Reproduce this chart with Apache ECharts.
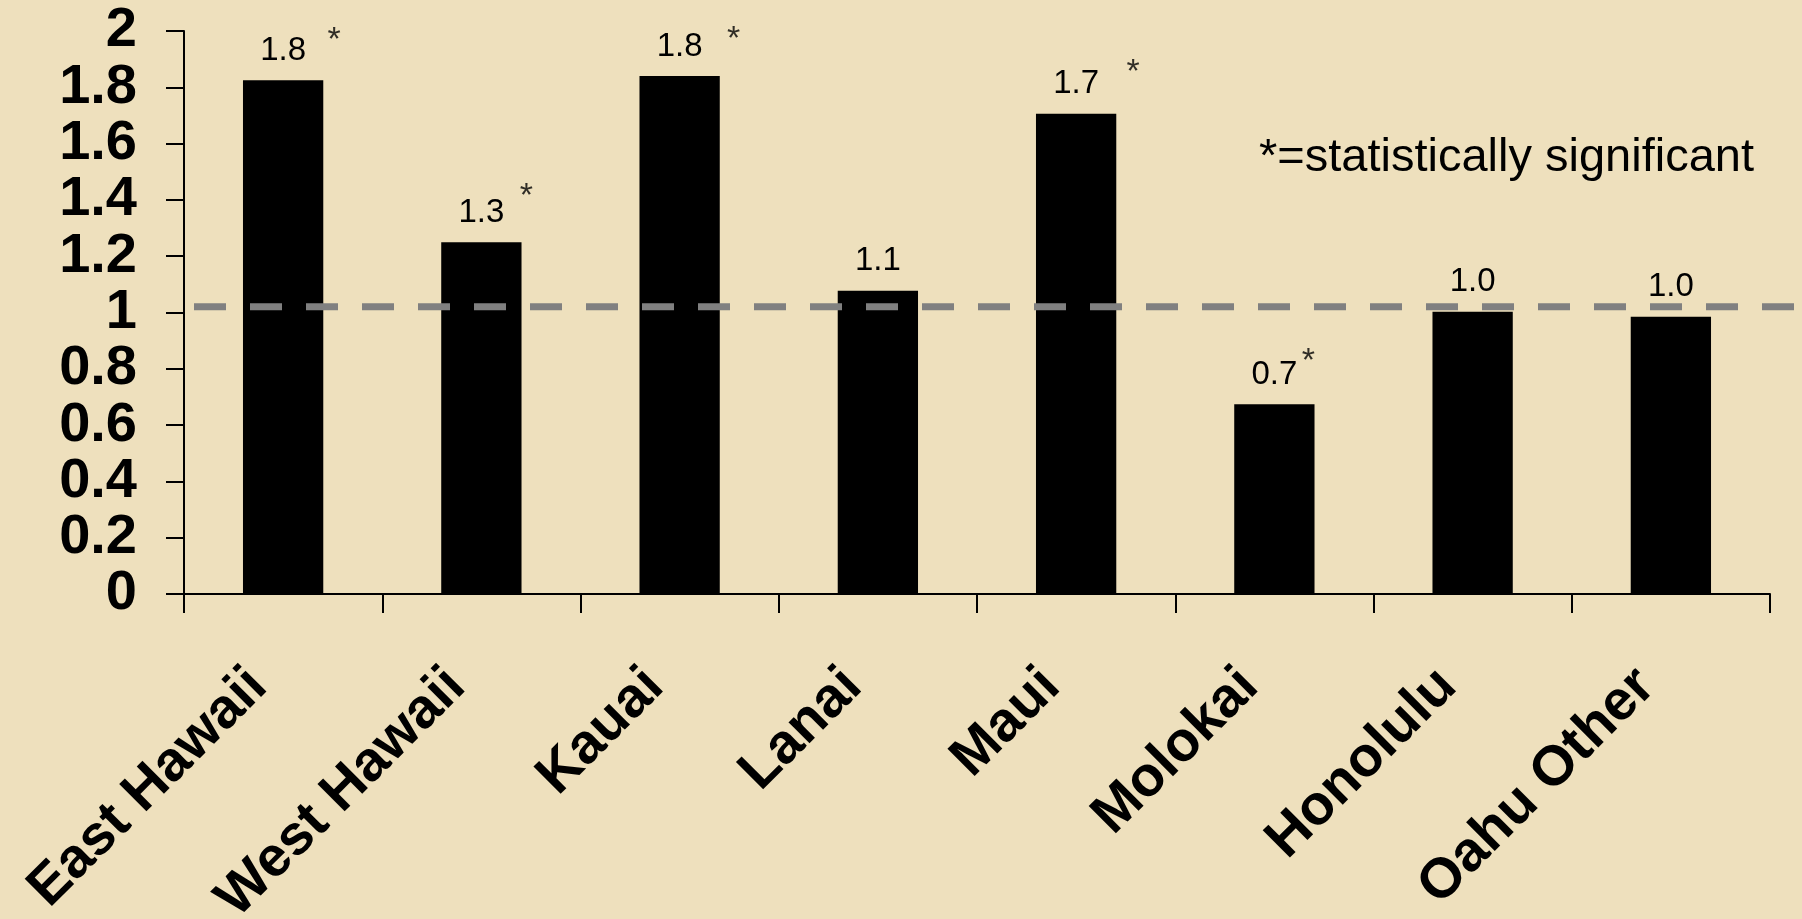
<!DOCTYPE html>
<html>
<head>
<meta charset="utf-8">
<script src="https://cdn.jsdelivr.net/npm/echarts@6/dist/echarts.min.js"></script>
<style>
  html, body { margin: 0; padding: 0; background: #EEE0BD; }
  #chart { width: 1802px; height: 919px; }
</style>
</head>
<body>
<div id="chart"></div>
<script>
// ---- data ----
const categories = ['East Hawaii', 'West Hawaii', 'Kauai', 'Lanai', 'Maui', 'Molokai', 'Honolulu', 'Oahu Other'];
const values = [1.825, 1.25, 1.84, 1.077, 1.706, 0.674, 1.003, 0.985];
const significant = [true, true, true, false, true, true, false, false];
const referenceValue = 1.02;
const yTicks = [0, 0.2, 0.4, 0.6, 0.8, 1, 1.2, 1.4, 1.6, 1.8, 2];
const noteText = '*=statistically significant';

// ---- styling (asterisk offsets relative to bar top) ----
const starOffsets = [[51, -40], [45, -46], [54, -36], [0, 0], [57, -41], [34, -43], [0, 0], [0, 0]];

const chart = echarts.init(document.getElementById('chart'));

const starData = values.map((v, i) => significant[i] ? {
  value: v,
  label: { show: true, offset: starOffsets[i] }
} : { value: v, label: { show: false } });

const option = {
  backgroundColor: '#EEE0BD',
  animation: false,
  title: {
    text: noteText,
    left: 1254,
    top: 130,
    textStyle: { fontFamily: 'Liberation Sans', fontSize: 47, fontWeight: 'normal', color: '#000' }
  },
  grid: [
    { left: 184, right: 32, top: 31, bottom: 325, outerBoundsMode: 'none', containLabel: false },
    { left: 194, right: 0, top: 31, bottom: 325, outerBoundsMode: 'none', containLabel: false }
  ],
  xAxis: [
    {
      type: 'category',
      data: categories,
      gridIndex: 0,
      boundaryGap: true,
      axisLine: { lineStyle: { color: '#000', width: 2 } },
      axisTick: { show: true, length: 19, lineStyle: { color: '#000', width: 2 }, alignWithLabel: false },
      axisLabel: {
        rotate: 45,
        margin: 59,
        padding: [0, 35, 0, 0],
        interval: 0,
        color: '#000',
        fontFamily: 'Liberation Sans',
        fontWeight: 'bold',
        fontSize: 56
      }
    },
    { type: 'value', gridIndex: 1, min: 0, max: 1, show: false }
  ],
  yAxis: [
    {
      type: 'value',
      gridIndex: 0,
      min: 0,
      max: 2,
      interval: 0.2,
      splitLine: { show: false },
      axisLine: { show: true, lineStyle: { color: '#000', width: 2 } },
      axisTick: { show: true, length: 18, lineStyle: { color: '#000', width: 2 } },
      axisLabel: {
        margin: 47,
        showMinLabel: true,
        showMaxLabel: true,
        hideOverlap: false,
        color: '#000',
        fontFamily: 'Liberation Sans',
        fontWeight: 'bold',
        fontSize: 56,
        formatter: v => {
          const t = yTicks.find(x => Math.abs(x - v) < 1e-9);
          return t === undefined ? '' : String(t);
        }
      }
    },
    { type: 'value', gridIndex: 1, min: 0, max: 2, show: false }
  ],
  series: [
    {
      type: 'bar',
      xAxisIndex: 0,
      yAxisIndex: 0,
      data: values,
      barWidth: '40.5%',
      itemStyle: { color: '#000' },
      label: {
        show: true,
        position: 'top',
        distance: 13,
        fontFamily: 'Liberation Sans',
        fontSize: 33,
        color: '#000',
        formatter: p => p.value.toFixed(1)
      },
      z: 2
    },
    {
      type: 'scatter',
      xAxisIndex: 0,
      yAxisIndex: 0,
      data: starData,
      symbolSize: 0,
      silent: true,
      label: {
        position: 'inside',
        formatter: '*',
        fontFamily: 'Liberation Sans',
        fontSize: 34,
        color: '#000'
      },
      z: 3
    },
    {
      type: 'line',
      xAxisIndex: 1,
      yAxisIndex: 1,
      data: [[0, referenceValue], [1, referenceValue]],
      symbol: 'none',
      silent: true,
      lineStyle: { color: '#808080', width: 7, type: [32, 24] },
      z: 5
    }
  ]
};

chart.setOption(option);
</script>
</body>
</html>
